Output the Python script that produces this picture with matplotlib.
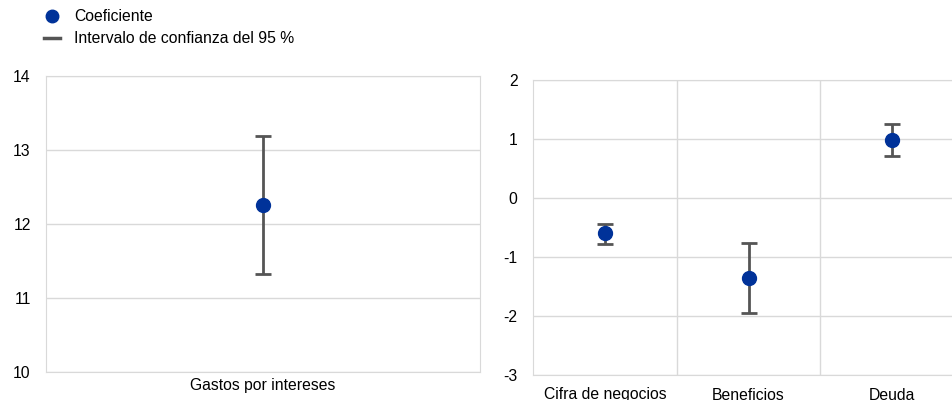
import matplotlib.pyplot as plt
from matplotlib.lines import Line2D

plt.rcParams['font.family'] = ['Liberation Sans', 'DejaVu Sans']
plt.rcParams['font.size'] = 11.3
plt.rcParams['axes.unicode_minus'] = False

# left panel
left_cats = ['Gastos por intereses']
left_coef = [12.26]
left_low = [11.32]
left_high = [13.19]

# right panel
right_cats = ['Cifra de negocios', 'Beneficios', 'Deuda']
right_coef = [-0.60, -1.35, 0.98]
right_low = [-0.78, -1.95, 0.72]
right_high = [-0.44, -0.76, 1.25]

BLUE = '#003299'
GREY = '#555555'
GRID = '#d9d9d9'

fig = plt.figure(figsize=(9.53, 4), dpi=100)
ax1 = fig.add_axes([46 / 953, 28 / 400, 434 / 953, 296 / 400])
ax2 = fig.add_axes([533 / 953, 25 / 400, 420 / 953, 295 / 400])


def draw(ax, cats, coef, low, high):
    x = list(range(len(cats)))
    err = [[c - l for c, l in zip(coef, low)], [h - c for c, h in zip(coef, high)]]
    ax.errorbar(x, coef, yerr=err, fmt='none', ecolor=GREY, elinewidth=2,
                capsize=6, capthick=2, zorder=3)
    ax.plot(x, coef, 'o', color=BLUE, markersize=10, zorder=4)
    ax.set_xticks(x)
    ax.set_xticklabels(cats)
    ax.grid(axis='y', color=GRID, linewidth=1)
    ax.set_axisbelow(True)
    for s in ax.spines.values():
        s.set_color(GRID)
    ax.tick_params(length=0, colors='black')
    ax.tick_params(axis='y', pad=11)


draw(ax1, left_cats, left_coef, left_low, left_high)
ax1.set_xlim(-0.5, 0.5)
ax1.set_ylim(10, 14)
ax1.set_yticks([10, 11, 12, 13, 14])
ax1.tick_params(axis='x', pad=4)

draw(ax2, right_cats, right_coef, right_low, right_high)
ax2.set_xlim(-0.5, -0.5 + 420 / 143.7)
ax2.set_ylim(-3, 2)
ax2.set_yticks([-3, -2, -1, 0, 1, 2])
ax2.spines['right'].set_visible(False)
for b in [0.5, 1.5]:
    ax2.axvline(b, color=GRID, linewidth=1, zorder=0)
ax2.tick_params(axis='x', pad=9)

handles = [
    Line2D([], [], marker='o', color=BLUE, linestyle='none', markersize=9),
    Line2D([], [], color=GREY, linewidth=2.5),
]
fig.legend(handles, ['Coeficiente', 'Intervalo de confianza del 95 %'],
           loc='upper left', bbox_to_anchor=(44 / 953, 1 - 9 / 400),
           frameon=False, handlelength=1.0, handletextpad=0.9,
           labelspacing=0.45, borderaxespad=0, borderpad=0)

fig.savefig('out.png', dpi=100)
